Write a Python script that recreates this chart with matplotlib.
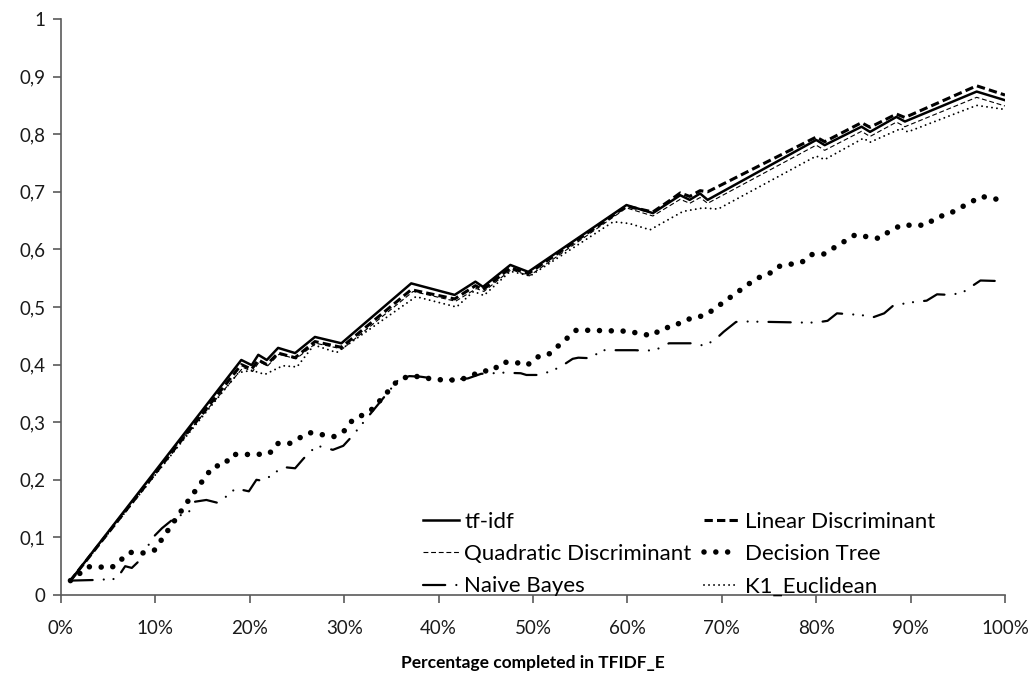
import matplotlib
matplotlib.use("Agg")
import matplotlib.pyplot as plt
from matplotlib.ticker import FuncFormatter

plt.rcParams["font.family"] = ["Lato", "DejaVu Sans"]
plt.rcParams["lines.scale_dashes"] = False

# percentage completed (x) and score (y) for each method
tfidf_x = [1, 19.1, 20.2, 20.9, 21.8, 23, 24.8, 26.9, 29.7, 37.1, 41.7, 43.9, 44.7, 47.6, 49.5,
           59.9, 62.7, 65.6, 66.6, 67.7, 68.5, 80, 80.9, 84.8, 85.7, 88.5, 89.4, 97, 100]
tfidf_y = [0.025, 0.408, 0.399, 0.417, 0.408, 0.429, 0.42, 0.448, 0.437, 0.541, 0.521, 0.544, 0.535,
           0.573, 0.561, 0.677, 0.663, 0.694, 0.686, 0.697, 0.686, 0.79, 0.781, 0.813, 0.804, 0.83, 0.822,
           0.874, 0.859]

lda_x = [1, 19.1, 20.2, 20.9, 21.8, 23, 24.8, 26.9, 29.7, 37.1, 41.7, 43.9, 44.7, 47.6, 49.5,
         59.9, 62.7, 64.5, 65.6, 66.6, 67.7, 68.5, 80, 80.9, 84.8, 85.7, 88.5, 89.4, 97, 100]
lda_y = [0.025, 0.400, 0.392, 0.408, 0.400, 0.42, 0.412, 0.44, 0.43, 0.53, 0.514, 0.537, 0.53,
         0.568, 0.558, 0.675, 0.665, 0.685, 0.698, 0.692, 0.702, 0.70, 0.795, 0.787, 0.82, 0.812,
         0.835, 0.829, 0.884, 0.868]

qda_x = [1, 12, 19.3, 20.3, 21, 21.9, 23.1, 24.9, 27, 29.8, 37.3, 41.8, 44, 44.8, 47.7, 49.6,
         59.9, 62.7, 65.6, 66.6, 67.7, 68.5, 80, 80.9, 84.8, 85.7, 88.5, 89.4, 97, 100]
qda_y = [0.025, 0.255, 0.395, 0.388, 0.405, 0.398, 0.418, 0.41, 0.437, 0.427, 0.527, 0.51, 0.532,
         0.527, 0.565, 0.554, 0.672, 0.658, 0.687, 0.68, 0.69, 0.68, 0.781, 0.772, 0.805, 0.796, 0.821,
         0.813, 0.864, 0.849]

tree_x = [1, 2.9, 5.4, 7.3, 8.7, 9.9, 13.7, 16.1, 17.3, 18.1, 20.8, 22.1, 22.9, 24.2, 26.3, 28.9, 30,
          30.9, 31.9, 33, 35.7, 36.9, 38.1, 39.5, 42.1, 43.3, 44.5, 45.7, 46.7, 48.1, 49.4, 50.4, 51.6,
          54.6, 60, 62.6, 63.7, 64.9, 66, 68.3, 73.7, 74.9, 75.9, 78.5, 79.5, 80.8, 84.1, 86.7, 87.8,
          89, 91.6, 92.8, 94, 97.5, 99.5]
tree_y = [0.025, 0.049, 0.048, 0.074, 0.073, 0.078, 0.169, 0.223, 0.226, 0.244, 0.244, 0.246, 0.263,
          0.263, 0.282, 0.275, 0.285, 0.304, 0.312, 0.323, 0.373, 0.38, 0.379, 0.374, 0.373, 0.379,
          0.389, 0.389, 0.404, 0.404, 0.399, 0.413, 0.417, 0.46, 0.458, 0.45, 0.463, 0.466, 0.477,
          0.486, 0.55, 0.556, 0.57, 0.578, 0.591, 0.592, 0.625, 0.619, 0.632, 0.642, 0.642, 0.656,
          0.661, 0.692, 0.686]

bayes_x = [1, 3.4, 5.9, 6.8, 7.5, 8.2, 9.8, 10.7, 12.2, 13.5, 14.2, 15.4, 16.6, 17.5, 18.5, 19.9,
           20.7, 21.5, 22.5, 23.6, 24.8, 25.7, 27, 27.4, 28.8, 29.9, 30.8, 32.3, 35.7, 36.9, 38.1,
           40.7, 43.1, 44.5, 46.9, 48.7, 49.3, 50.6, 51.8, 52.9, 54.2, 54.8, 56.2, 57.2, 60.8, 62.1,
           63.3, 64.4, 66.8, 68.1, 69.2, 70.2, 71.5, 72.1, 78.6, 80, 81.2, 82.2, 84.8, 86, 87.2, 88.2,
           90.5, 91.7, 92.8, 94.2, 95.5, 96.3, 97.4, 99.5]
bayes_y = [0.025, 0.026, 0.028, 0.05, 0.047, 0.058, 0.101, 0.116, 0.136, 0.143, 0.162, 0.165, 0.16,
           0.171, 0.185, 0.18, 0.2, 0.198, 0.211, 0.222, 0.22, 0.237, 0.258, 0.258, 0.252, 0.259,
           0.275, 0.305, 0.373, 0.38, 0.379, 0.373, 0.376, 0.384, 0.386, 0.385, 0.382, 0.382, 0.388,
           0.396, 0.41, 0.412, 0.411, 0.425, 0.425, 0.424, 0.428, 0.437, 0.437, 0.433, 0.442, 0.457,
           0.474, 0.475, 0.473, 0.473, 0.476, 0.489, 0.486, 0.482, 0.489, 0.503, 0.509, 0.511, 0.522,
           0.521, 0.525, 0.534, 0.546, 0.545]

knn_x = [1, 13, 18.8, 20.2, 21.6, 23.5, 25, 26.8, 29.2, 37.6, 41.9, 43.7, 44.8, 47.6, 49.7, 58.5,
         60.2, 62.4, 65.9, 68, 69.6, 80, 80.9, 85, 85.7, 89, 89.7, 97, 100]
knn_y = [0.025, 0.27, 0.386, 0.39, 0.383, 0.398, 0.396, 0.434, 0.421, 0.518, 0.50, 0.527, 0.52, 0.562,
         0.554, 0.648, 0.645, 0.634, 0.666, 0.672, 0.67, 0.762, 0.756, 0.793, 0.786, 0.81, 0.804, 0.85,
         0.843]

fig = plt.figure(figsize=(10.33, 6.75), dpi=100)
ax = fig.add_axes([61 / 1033, 1 - 595 / 675, 944 / 1033, 576 / 675])

ax.plot(tfidf_x, tfidf_y, color="black", lw=1.8, label="tf-idf")
ax.plot(qda_x, qda_y, color="black", lw=0.8, linestyle=(0, (3.5, 2)), label="Quadratic Discriminant")
ax.plot(bayes_x, bayes_y, color="black", lw=1.6, dash_capstyle="round",
        linestyle=(0, (16, 8, 0.01, 7, 0.01, 8)), label="Naive Bayes")
ax.plot(lda_x, lda_y, color="black", lw=2.2, linestyle=(0, (6, 3)), label="Linear Discriminant")
ax.plot(tree_x, tree_y, color="black", lw=4, dash_capstyle="round",
        linestyle=(0, (0.01, 8.5)), label="Decision Tree")
ax.plot(knn_x, knn_y, color="black", lw=1.4, dash_capstyle="round",
        linestyle=(0, (0.01, 3.6)), label="K1_Euclidean")

ax.set_xlim(0, 100)
ax.set_ylim(0, 1)
ax.set_xticks(range(0, 101, 10))
ax.set_yticks([i / 10 for i in range(11)])
ax.xaxis.set_major_formatter(FuncFormatter(lambda v, p: f"{int(v)}%"))
ax.yaxis.set_major_formatter(FuncFormatter(lambda v, p: f"{v:.1f}".replace(".", ",").replace("0,0", "0").replace("1,0", "1")))

for side in ("top", "right"):
    ax.spines[side].set_visible(False)
for side in ("left", "bottom"):
    ax.spines[side].set_color("#5a5a5a")
    ax.spines[side].set_linewidth(1.2)
ax.tick_params(direction="out", length=6, width=1.2, color="#5a5a5a", labelsize=13.5,
               labelcolor="#1a1a1a")
ax.tick_params(axis="x", pad=12)
ax.tick_params(axis="y", pad=5)

ax.set_xlabel("Percentage completed in TFIDF_E", fontsize=12.5, fontweight="bold", labelpad=13)

fig.legend(loc="upper left", bbox_to_anchor=(423 / 1033, 1 - 512 / 675), ncol=2, frameon=False,
           fontsize=16, handlelength=1.6, handletextpad=0.25, columnspacing=0.55, labelspacing=0.55,
           borderaxespad=0, borderpad=0)

fig.savefig("out.png", dpi=100)
